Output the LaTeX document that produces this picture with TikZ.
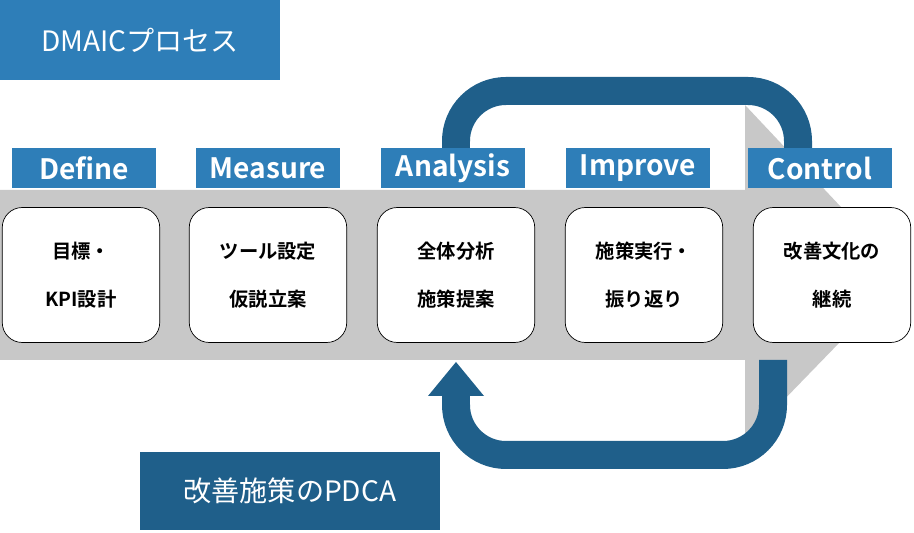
\documentclass[tikz,border=0pt]{standalone}
\usepackage{fontspec}
\setmainfont{Noto Sans CJK JP}
\newfontfamily\jpbold{Noto Sans CJK JP Bold}
\usetikzlibrary{arrows.meta}
\definecolor{dmblue}{HTML}{2E7EB8}
\definecolor{pdblue}{HTML}{1F5F8A}
\definecolor{arrgray}{HTML}{C8C8C8}
\tikzset{
  phase/.style={fill=dmblue,text=white,font=\jpbold\fontsize{16}{18}\selectfont,
    minimum width=2.9cm,minimum height=0.8cm,inner sep=0pt},
  stepbox/.style={draw=black,fill=white,rounded corners=0.4cm,align=center,
    font=\jpbold\fontsize{11}{27}\selectfont,minimum width=3.15cm,minimum height=2.7cm},
  loop/.style={pdblue,line width=0.56cm,rounded corners=1cm}
}
\begin{document}
\begin{tikzpicture}[x=0.02cm,y=-0.02cm]
\useasboundingbox (0,0) rectangle (914,533);
% gray process arrow
\fill[arrgray] (0,190) -- (745,190) -- (745,105) -- (905,275) -- (745,440) -- (745,360) -- (0,360) -- cycle;
% improvement loop, top half
\coordinate (ltop) at (456,180);
\coordinate (rtop) at (798,180);
\draw[loop] (ltop) -- (456,91) -- (798,91) -- (rtop);
% labels
\node[fill=dmblue,text=white,font=\fontsize{16}{18}\selectfont,minimum width=5.6cm,minimum height=1.6cm,inner sep=0pt] (title) at (140,40) {DMAICプロセス};
\node[phase] (define) at (84,168) {Define};
\node[phase] (measure) at (268,168) {Measure};
\node[phase] (analysis) at (453,168) {Analysis};
\node[phase] (improve) at (638,168) {Improve};
\node[phase] (control) at (820,168) {Control};
% steps
\node[stepbox] (s1) at (81,275) {目標・\\KPI設計};
\node[stepbox] (s2) at (268,275) {ツール設定\\仮説立案};
\node[stepbox] (s3) at (456,275) {全体分析\\施策提案};
\node[stepbox] (s4) at (644,275) {施策実行・\\振り返り};
\node[stepbox] (s5) at (832,275) {改善文化の\\継続};
% improvement loop, bottom half
\coordinate (rbot) at (773,360);
\coordinate (lbot) at (456,362);
\draw[loop] (rbot) -- (773,455) -- (456,455) -- (456,396);
\fill[pdblue] (428,396) -- (484,396) -- (lbot) -- cycle;
\node[fill=pdblue,text=white,font=\fontsize{16}{18}\selectfont,minimum width=6cm,minimum height=1.56cm,inner sep=0pt] (pdca) at (290,491) {改善施策のPDCA};
\end{tikzpicture}
\end{document}
